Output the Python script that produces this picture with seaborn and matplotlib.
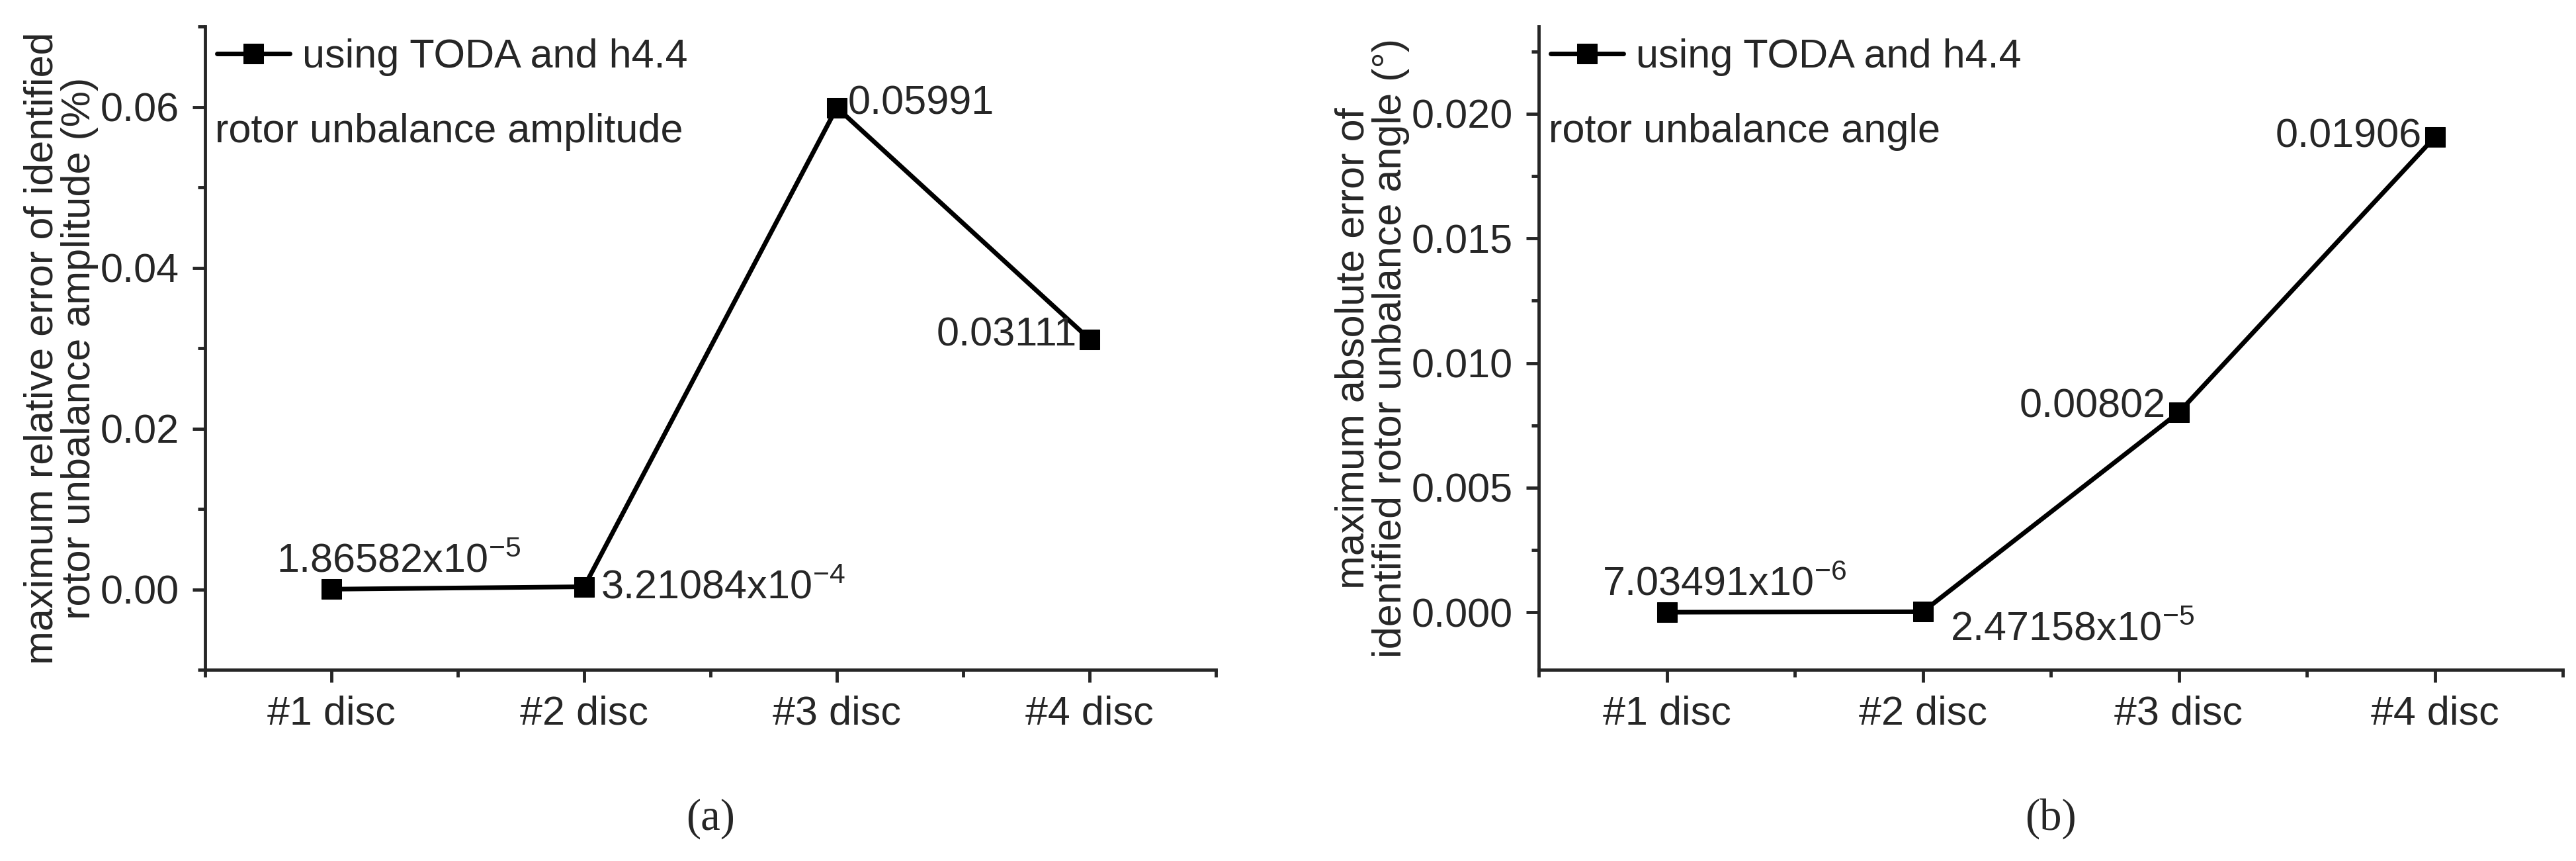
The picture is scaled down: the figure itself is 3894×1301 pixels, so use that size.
import matplotlib
matplotlib.use("Agg")
import matplotlib.pyplot as plt
import seaborn as sns
import pandas as pd
from matplotlib.ticker import MultipleLocator, FixedLocator

discs = ["#1 disc", "#2 disc", "#3 disc", "#4 disc"]
amp_err = [1.86582e-5, 3.21084e-4, 0.05991, 0.03111]
ang_err = [7.03491e-6, 2.47158e-5, 0.00802, 0.01906]
amp_labels = ["1.86582x10$^{-5}$", "3.21084x10$^{-4}$", "0.05991", "0.03111"]
ang_labels = ["7.03491x10$^{-6}$", "2.47158x10$^{-5}$", "0.00802", "0.01906"]

sns.set_style("ticks")
plt.rcParams['font.family'] = ['Liberation Sans Narrow', 'Liberation Sans', 'DejaVu Sans']
plt.rcParams['mathtext.fontset'] = 'custom'
plt.rcParams['mathtext.rm'] = 'Liberation Sans'
FS = 44

fig = plt.figure(figsize=(38.94, 13.01), dpi=100)
axa = fig.add_axes([310/3894, 1-1012/1301, (1838-310)/3894, (1012-40)/1301])
axb = fig.add_axes([2326/3894, 1-1012/1301, (3874-2326)/3894, (1012-40)/1301])

def panel(ax, vals, labels, ylim, major, ylabel, legtitle, offsets, tag):
    df = pd.DataFrame({"x": [1, 2, 3, 4], "y": vals})
    sns.lineplot(data=df, x="x", y="y", ax=ax, color="black", lw=5,
                 marker="s", markersize=22, markeredgecolor="black",
                 label="using TODA and h4.4")
    ax.set_xlim(0.5, 4.5)
    ax.set_ylim(*ylim)
    ax.xaxis.set_major_locator(FixedLocator([1, 2, 3, 4]))
    ax.set_xticklabels(discs)
    ax.xaxis.set_minor_locator(FixedLocator([0.5, 1.5, 2.5, 3.5, 4.5]))
    ax.yaxis.set_major_locator(MultipleLocator(major))
    ax.yaxis.set_minor_locator(MultipleLocator(major / 2))
    ax.tick_params(which="major", length=14, width=3.5, labelsize=FS, pad=14)
    ax.tick_params(which="minor", length=8, width=3.5)
    for s in ["top", "right"]:
        ax.spines[s].set_visible(False)
    for s in ["left", "bottom"]:
        ax.spines[s].set_linewidth(3.5)
    ax.set_xlabel("")
    ax.set_ylabel(ylabel, fontsize=FS, labelpad=2, linespacing=1.0)
    ax.legend(loc="upper left", frameon=False, fontsize=FS, handlelength=1.8,
              borderaxespad=0.0, handletextpad=0.3, borderpad=0.3)
    ax.text(0.01, 0.865, legtitle, transform=ax.transAxes, fontsize=FS, va="top")
    for i, (v, t, (dx, dy, ha)) in enumerate(zip(vals, labels, offsets)):
        ax.annotate(t, (i + 1, v), xytext=(dx, dy), textcoords="offset points",
                    fontsize=FS, ha=ha, va="center")
    ax.text(0.5, -0.2, tag, transform=ax.transAxes, fontsize=FS + 4, ha="center",
            va="top", family="Liberation Serif")

panel(axa, amp_err, amp_labels, (-0.01, 0.07), 0.02,
      "maximum relative error of identified\nrotor unbalance amplitude (%)",
      "rotor unbalance amplitude",
      [(-60, 30, "left"), (18, -2, "left"), (12, 4, "left"), (-14, 4, "right")],
      "(a)")
panel(axb, ang_err, ang_labels, (-0.0023, 0.0235), 0.005,
      "maximum absolute error of\nidentified rotor unbalance angle (°)",
      "rotor unbalance angle",
      [(-70, 30, "left"), (30, -20, "left"), (-14, 6, "right"), (-14, 0, "right")],
      "(b)")

fig.savefig("out.png", dpi=100)
